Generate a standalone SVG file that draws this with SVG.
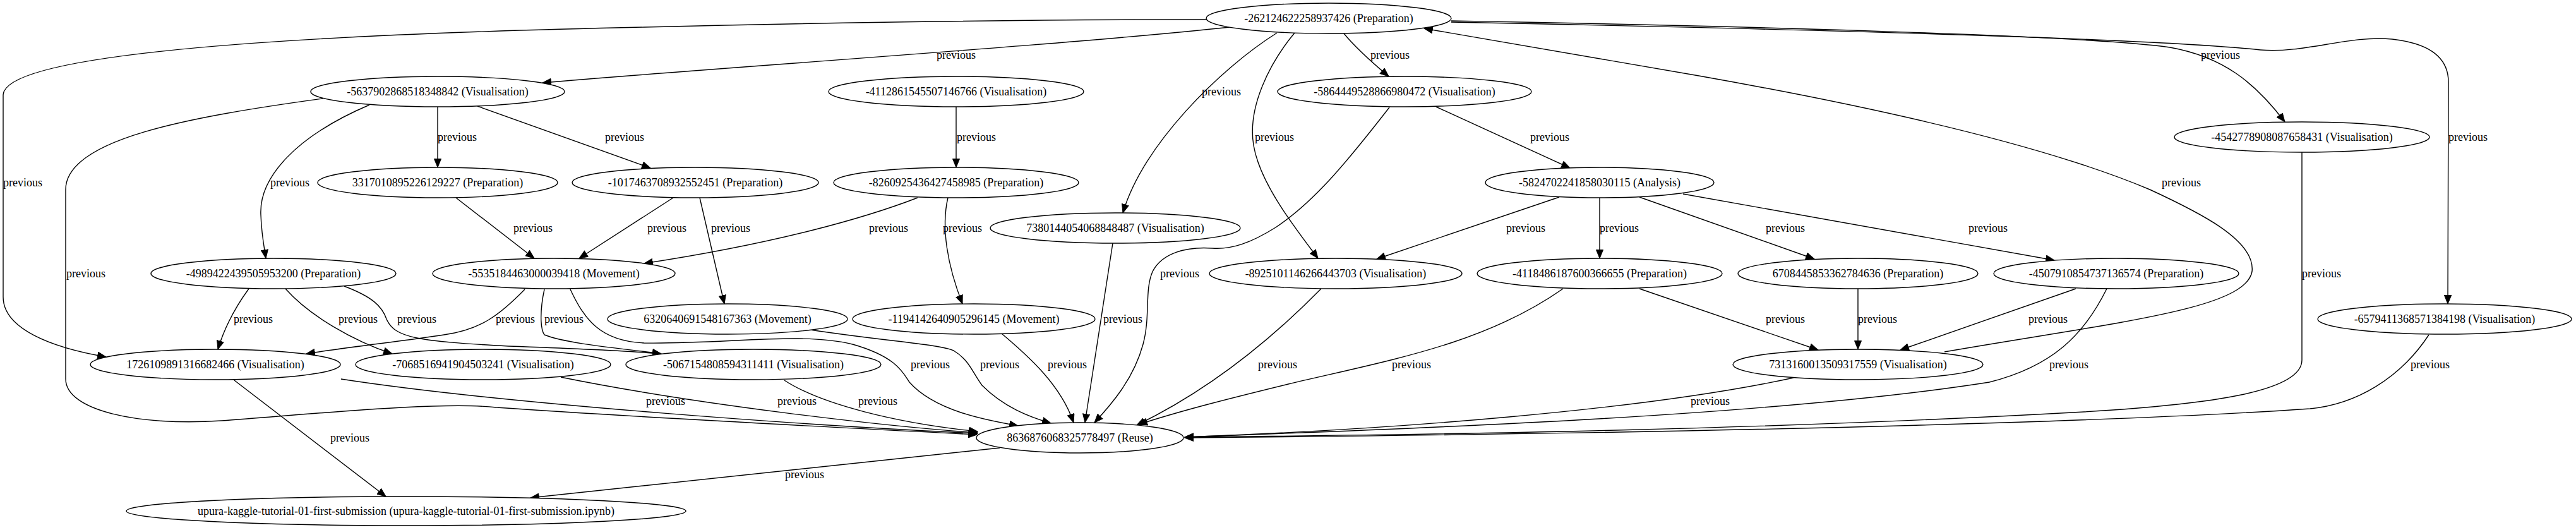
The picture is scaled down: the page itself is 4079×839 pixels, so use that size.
<svg xmlns="http://www.w3.org/2000/svg" width="4079" height="839" viewBox="0 0 4079 839">
<style>
.n ellipse{fill:#fff;stroke:#000;stroke-width:1.4}
text{font-family:"Liberation Serif","Times New Roman",serif;font-size:18px;fill:#000;text-anchor:middle}
.e path{fill:none;stroke:#000;stroke-width:1.4;marker-end:url(#ah)}
</style>
<defs>
<marker id="ah" markerWidth="15" markerHeight="12" refX="14" refY="6" orient="auto" markerUnits="userSpaceOnUse"><path d="M0.5,0.5 L14,6 L0.5,11.5 z" fill="#000" stroke="#000" stroke-width="1"/></marker>
</defs>
<rect width="4079" height="839" fill="#fff"/>
<g id="edges" class="e">
<path d="M1947,43 C1700,70 1100,110 859,131"/>
<path d="M1910,31 C1600,31 1300,36 1020,43 C600,52 10,75 5,150 L5,470 C5,520 80,550 168,565"/>
<path d="M2128,53 C2150,80 2180,105 2199,121"/>
<path d="M2022,52 C1930,110 1810,230 1778,337"/>
<path d="M2050,52 C2010,100 1975,170 1985,230 C1995,290 2050,360 2087,409"/>
<path d="M2298,33 C2700,40 3300,55 3436,75 C3520,90 3570,130 3618,193"/>
<path d="M2298,35 C2800,45 3400,60 3579,79 C3650,85 3720,55 3788,62 C3860,70 3877,100 3877,130 L3876,481"/>
<path d="M693,169 L693,265"/>
<path d="M756,168 L1030,266"/>
<path d="M585,166 C470,215 410,280 413,340 C414,370 418,390 421,409"/>
<path d="M511,156 C300,185 104,220 104,300 L104,600 C104,650 220,675 351,666 C500,655 700,635 786,645 C1000,660 1350,678 1547,688"/>
<path d="M1514,169 L1514,265"/>
<path d="M2274,169 L2486,266"/>
<path d="M2200,170 C2130,260 2080,320 2020,360 C1980,385 1950,395 1920,393 C1880,390 1840,400 1825,430 C1812,460 1822,500 1810,545 C1795,600 1760,640 1733,669"/>
<path d="M722,313 L846,409"/>
<path d="M1066,313 L917,409"/>
<path d="M1108,313 L1147,481"/>
<path d="M1453,313 C1370,345 1230,385 1020,417"/>
<path d="M1501,313 C1490,360 1500,420 1524,481"/>
<path d="M2469,312 L2180,410"/>
<path d="M2533,313 L2533,409"/>
<path d="M2596,312 L2873,410"/>
<path d="M2665,307 C2850,340 3050,375 3253,412"/>
<path d="M1762,385 L1718,669"/>
<path d="M394,457 C370,490 355,520 345,553"/>
<path d="M452,457 C490,500 560,540 621,560"/>
<path d="M545,453 C590,470 605,485 612,505 C625,535 660,540 805,548 C920,552 1000,556 1047,560"/>
<path d="M831,458 C790,500 760,522 703,530 C640,540 560,548 485,560"/>
<path d="M862,458 C855,490 855,520 862,530 C900,545 990,552 1047,560"/>
<path d="M903,458 C925,505 950,540 1020,543 C1150,545 1270,525 1350,545 C1420,565 1430,590 1440,605 C1480,650 1560,665 1612,674"/>
<path d="M2092,457 C2030,520 1930,610 1800,673"/>
<path d="M2596,457 L2879,554"/>
<path d="M2475,457 C2350,545 2200,570 2040,608 C1950,630 1870,650 1803,672"/>
<path d="M2942,457 L2942,553"/>
<path d="M3287,457 L3009,554"/>
<path d="M3336,457 C3300,530 3250,580 3150,605 C2800,660 2200,680 1876,692"/>
<path d="M1283,522 C1400,540 1490,545 1510,555 C1535,570 1540,590 1555,610 C1590,645 1630,660 1664,670"/>
<path d="M1586,528 C1630,565 1680,610 1700,669"/>
<path d="M3645,241 L3645,570 C3645,620 3500,640 3300,652 C2800,680 2300,688 1876,692"/>
<path d="M3846,530 C3800,600 3730,640 3658,647 C3400,665 2800,685 1876,693"/>
<path d="M540,600 C800,640 1300,675 1548,686"/>
<path d="M888,597 C1100,640 1400,675 1548,685"/>
<path d="M1242,602 C1300,640 1420,670 1548,683"/>
<path d="M2840,598 C2600,650 2200,680 1876,692"/>
<path d="M3079,557 C3350,510 3555,490 3566,430 C3572,380 3480,335 3404,300 C3250,235 3000,175 2690,120 C2500,88 2350,62 2255,45"/>
<path d="M371,602 L611,786"/>
<path d="M1583,709 L840,788"/>
</g>
<g id="edge-labels">
<text x="1514" y="93">previous</text>
<text x="36" y="295">previous</text>
<text x="2201" y="93">previous</text>
<text x="1934" y="151">previous</text>
<text x="2018" y="223">previous</text>
<text x="3516" y="93">previous</text>
<text x="3908" y="223">previous</text>
<text x="724" y="223">previous</text>
<text x="989" y="223">previous</text>
<text x="459" y="295">previous</text>
<text x="136" y="439">previous</text>
<text x="1546" y="223">previous</text>
<text x="2454" y="223">previous</text>
<text x="1868" y="439">previous</text>
<text x="844" y="367">previous</text>
<text x="1056" y="367">previous</text>
<text x="1157" y="367">previous</text>
<text x="1407" y="367">previous</text>
<text x="1524" y="367">previous</text>
<text x="2416" y="367">previous</text>
<text x="2564" y="367">previous</text>
<text x="2827" y="367">previous</text>
<text x="3148" y="367">previous</text>
<text x="1778" y="511">previous</text>
<text x="401" y="511">previous</text>
<text x="567" y="511">previous</text>
<text x="660" y="511">previous</text>
<text x="816" y="511">previous</text>
<text x="893" y="511">previous</text>
<text x="1473" y="583">previous</text>
<text x="2023" y="583">previous</text>
<text x="2827" y="511">previous</text>
<text x="2235" y="583">previous</text>
<text x="2973" y="511">previous</text>
<text x="3243" y="511">previous</text>
<text x="3276" y="583">previous</text>
<text x="1583" y="583">previous</text>
<text x="1690" y="583">previous</text>
<text x="3676" y="439">previous</text>
<text x="3848" y="583">previous</text>
<text x="1054" y="641">previous</text>
<text x="1262" y="641">previous</text>
<text x="1390" y="641">previous</text>
<text x="2708" y="641">previous</text>
<text x="3454" y="295">previous</text>
<text x="554" y="699">previous</text>
<text x="1274" y="757">previous</text>
</g>
<g id="n-T" class="n"><ellipse cx="2104" cy="29" rx="194" ry="24"/><text x="2104" y="35">-262124622258937426 (Preparation)</text></g>
<g id="n-A" class="n"><ellipse cx="693" cy="145" rx="201" ry="24"/><text x="693" y="151">-5637902868518348842 (Visualisation)</text></g>
<g id="n-B" class="n"><ellipse cx="1514" cy="145" rx="202" ry="24"/><text x="1514" y="151">-4112861545507146766 (Visualisation)</text></g>
<g id="n-C" class="n"><ellipse cx="2224" cy="145" rx="201" ry="24"/><text x="2224" y="151">-5864449528866980472 (Visualisation)</text></g>
<g id="n-D" class="n"><ellipse cx="3645" cy="217" rx="202" ry="24"/><text x="3645" y="223">-4542778908087658431 (Visualisation)</text></g>
<g id="n-E" class="n"><ellipse cx="693" cy="289" rx="190" ry="24"/><text x="693" y="295">3317010895226129227 (Preparation)</text></g>
<g id="n-F" class="n"><ellipse cx="1101" cy="289" rx="195" ry="24"/><text x="1101" y="295">-1017463708932552451 (Preparation)</text></g>
<g id="n-G" class="n"><ellipse cx="1514" cy="289" rx="194" ry="24"/><text x="1514" y="295">-8260925436427458985 (Preparation)</text></g>
<g id="n-H" class="n"><ellipse cx="2533" cy="289" rx="181" ry="24"/><text x="2533" y="295">-5824702241858030115 (Analysis)</text></g>
<g id="n-I" class="n"><ellipse cx="1766" cy="361" rx="198" ry="24"/><text x="1766" y="367">7380144054068848487 (Visualisation)</text></g>
<g id="n-J" class="n"><ellipse cx="433" cy="433" rx="194" ry="24"/><text x="433" y="439">-4989422439505953200 (Preparation)</text></g>
<g id="n-K" class="n"><ellipse cx="877" cy="433" rx="192" ry="24"/><text x="877" y="439">-5535184463000039418 (Movement)</text></g>
<g id="n-L" class="n"><ellipse cx="2115" cy="433" rx="200" ry="24"/><text x="2115" y="439">-8925101146266443703 (Visualisation)</text></g>
<g id="n-M" class="n"><ellipse cx="2533" cy="433" rx="194" ry="24"/><text x="2533" y="439">-4118486187600366655 (Preparation)</text></g>
<g id="n-N" class="n"><ellipse cx="2942" cy="433" rx="190" ry="24"/><text x="2942" y="439">6708445853362784636 (Preparation)</text></g>
<g id="n-O" class="n"><ellipse cx="3351" cy="433" rx="194" ry="24"/><text x="3351" y="439">-4507910854737136574 (Preparation)</text></g>
<g id="n-P" class="n"><ellipse cx="1152" cy="505" rx="190" ry="24"/><text x="1152" y="511">6320640691548167363 (Movement)</text></g>
<g id="n-Q" class="n"><ellipse cx="1542" cy="505" rx="192" ry="24"/><text x="1542" y="511">-1194142640905296145 (Movement)</text></g>
<g id="n-R" class="n"><ellipse cx="3871" cy="505" rx="201" ry="24"/><text x="3871" y="511">-6579411368571384198 (Visualisation)</text></g>
<g id="n-S" class="n"><ellipse cx="341" cy="577" rx="198" ry="24"/><text x="341" y="583">1726109891316682466 (Visualisation)</text></g>
<g id="n-U" class="n"><ellipse cx="765" cy="577" rx="202" ry="24"/><text x="765" y="583">-7068516941904503241 (Visualisation)</text></g>
<g id="n-V" class="n"><ellipse cx="1193" cy="577" rx="202" ry="24"/><text x="1193" y="583">-5067154808594311411 (Visualisation)</text></g>
<g id="n-W" class="n"><ellipse cx="2942" cy="577" rx="198" ry="24"/><text x="2942" y="583">7313160013509317559 (Visualisation)</text></g>
<g id="n-X" class="n"><ellipse cx="1710" cy="693" rx="164" ry="24"/><text x="1710" y="699">8636876068325778497 (Reuse)</text></g>
<g id="n-Y" class="n"><ellipse cx="643" cy="809" rx="443" ry="23"/><text x="643" y="815">upura-kaggle-tutorial-01-first-submission (upura-kaggle-tutorial-01-first-submission.ipynb)</text></g>
</svg>
